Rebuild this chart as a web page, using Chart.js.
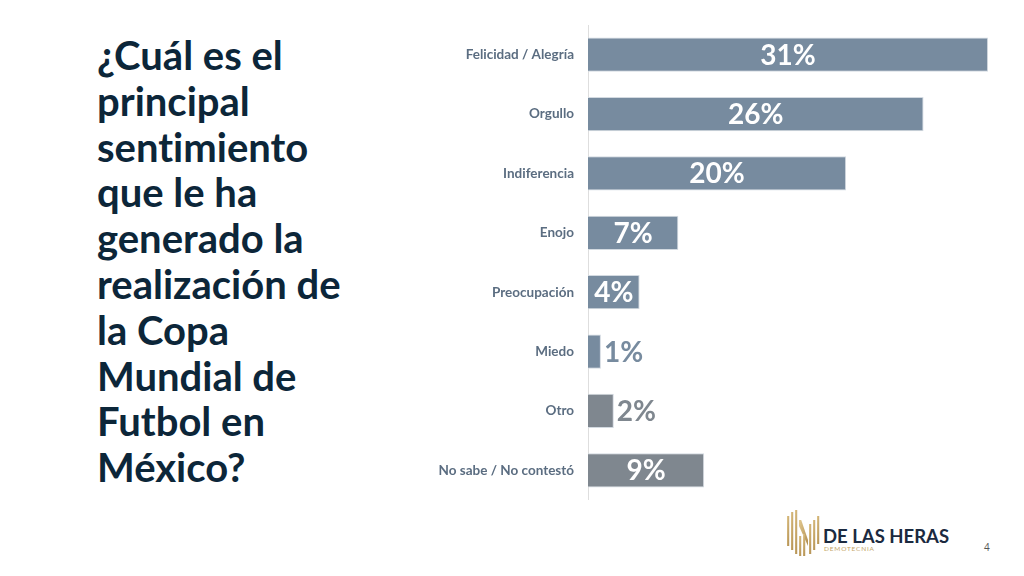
<!DOCTYPE html>
<html>
<head>
<meta charset="utf-8">
<script src="https://cdn.jsdelivr.net/npm/chart.js@4.4.1/dist/chart.umd.min.js"></script>
<style>
  html,body{margin:0;padding:0;background:#fff;}
  body{width:1024px;height:576px;position:relative;overflow:hidden;font-family:Lato,"Open Sans",sans-serif;font-variant-ligatures:none;}
  #title{position:absolute;left:97px;top:33px;width:320px;font-family:Lato,sans-serif;font-weight:700;font-size:40px;line-height:45.8px;color:#0c2639;font-variant-ligatures:none;white-space:nowrap;}
  #wrap{position:absolute;left:410px;top:25px;width:591px;height:475px;}
  #logo{position:absolute;left:786px;top:510px;}
  #brand{position:absolute;left:823px;top:525px;font-family:Lato,sans-serif;font-weight:700;font-size:18.5px;color:#1b2a40;white-space:nowrap;}
  #sub{position:absolute;left:824px;top:545px;font-family:Lato,sans-serif;font-size:6.5px;color:#c4a567;letter-spacing:0.8px;}
  #page{position:absolute;left:984px;top:540px;font-family:"Open Sans",sans-serif;font-size:10px;color:#555;}
</style>
</head>
<body>
<div id="title">¿Cuál es el<br>principal<br>sentimiento<br>que le ha<br>generado la<br>realización de<br>la Copa<br>Mundial de<br>Futbol en<br>México?</div>
<div id="wrap"><canvas id="c" width="591" height="475"></canvas></div>
<svg id="logo" width="36" height="48" viewBox="0 0 36 48">
  <defs><linearGradient id="g" x1="0" y1="0" x2="1" y2="1"><stop offset="0" stop-color="#e2c88f"/><stop offset="1" stop-color="#b08d4f"/></linearGradient></defs>
  <g fill="url(#g)">
    <rect x="1" y="6" width="2.2" height="30"/>
    <rect x="5" y="2" width="2.2" height="38"/>
    <rect x="9" y="0" width="2.2" height="44"/>
    <polygon points="13,10 15.2,10 22,30 22,36 13,16"/>
    <rect x="13" y="26" width="2.2" height="20"/>
    <rect x="17" y="24" width="2.2" height="22"/>
    <rect x="23" y="14" width="2.2" height="30"/>
    <rect x="27" y="10" width="2.2" height="30"/>
    <rect x="31" y="6" width="2.2" height="28"/>
  </g>
</svg>
<div id="brand">DE LAS HERAS</div>
<div id="sub">DEMOTECNIA</div>
<div id="page">4</div>
<script>
const categories = ["Felicidad / Alegría","Orgullo","Indiferencia","Enojo","Preocupación","Miedo","Otro","No sabe / No contestó"];
const values = [31,26,20,7,4,1,2,9];
const barColors = ["#778b9f","#778b9f","#778b9f","#778b9f","#778b9f","#778b9f","#7f878f","#7f878f"];

const labelPlugin = {
  id:'valueLabels',
  afterDatasetsDraw(chart){
    const ctx = chart.ctx;
    const meta = chart.getDatasetMeta(0);
    ctx.save();
    ctx.font = "bold 28px Lato, 'Open Sans', sans-serif";
    ctx.textBaseline = 'middle';
    meta.data.forEach((bar,i)=>{
      const v = values[i];
      const txt = v + '%';
      if (v >= 4) {
        ctx.fillStyle = '#ffffff';
        ctx.textAlign = 'center';
        ctx.fillText(txt, (bar.x + bar.base)/2, bar.y + 1);
      } else {
        ctx.fillStyle = barColors[i];
        ctx.textAlign = 'left';
        ctx.fillText(txt, bar.x + 3, bar.y + 1);
      }
    });
    ctx.restore();
  }
};

new Chart(document.getElementById('c'), {
  type:'bar',
  data:{
    labels: categories,
    datasets:[{
      data: values,
      backgroundColor: barColors,
      borderColor: '#d3dae1',
      borderWidth: 1,
      categoryPercentage: 1,
      barPercentage: 0.575
    }]
  },
  options:{
    indexAxis:'y',
    responsive:false,
    animation:false,
    layout:{padding:0,autoPadding:false},
    plugins:{legend:{display:false},tooltip:{enabled:false}},
    scales:{
      x:{display:false,min:0,max:32},
      y:{
        afterFit(s){ s.width = 178; s.paddingTop = 0; s.paddingBottom = 0; },
        grid:{display:false,drawTicks:false},
        border:{display:true,color:'#dedede',width:1},
        ticks:{padding:14,color:'#5b6d81',font:{family:"Lato, 'Open Sans', sans-serif",weight:'bold',size:13.5}}
      }
    }
  },
  plugins:[labelPlugin]
});
</script>
</body>
</html>
